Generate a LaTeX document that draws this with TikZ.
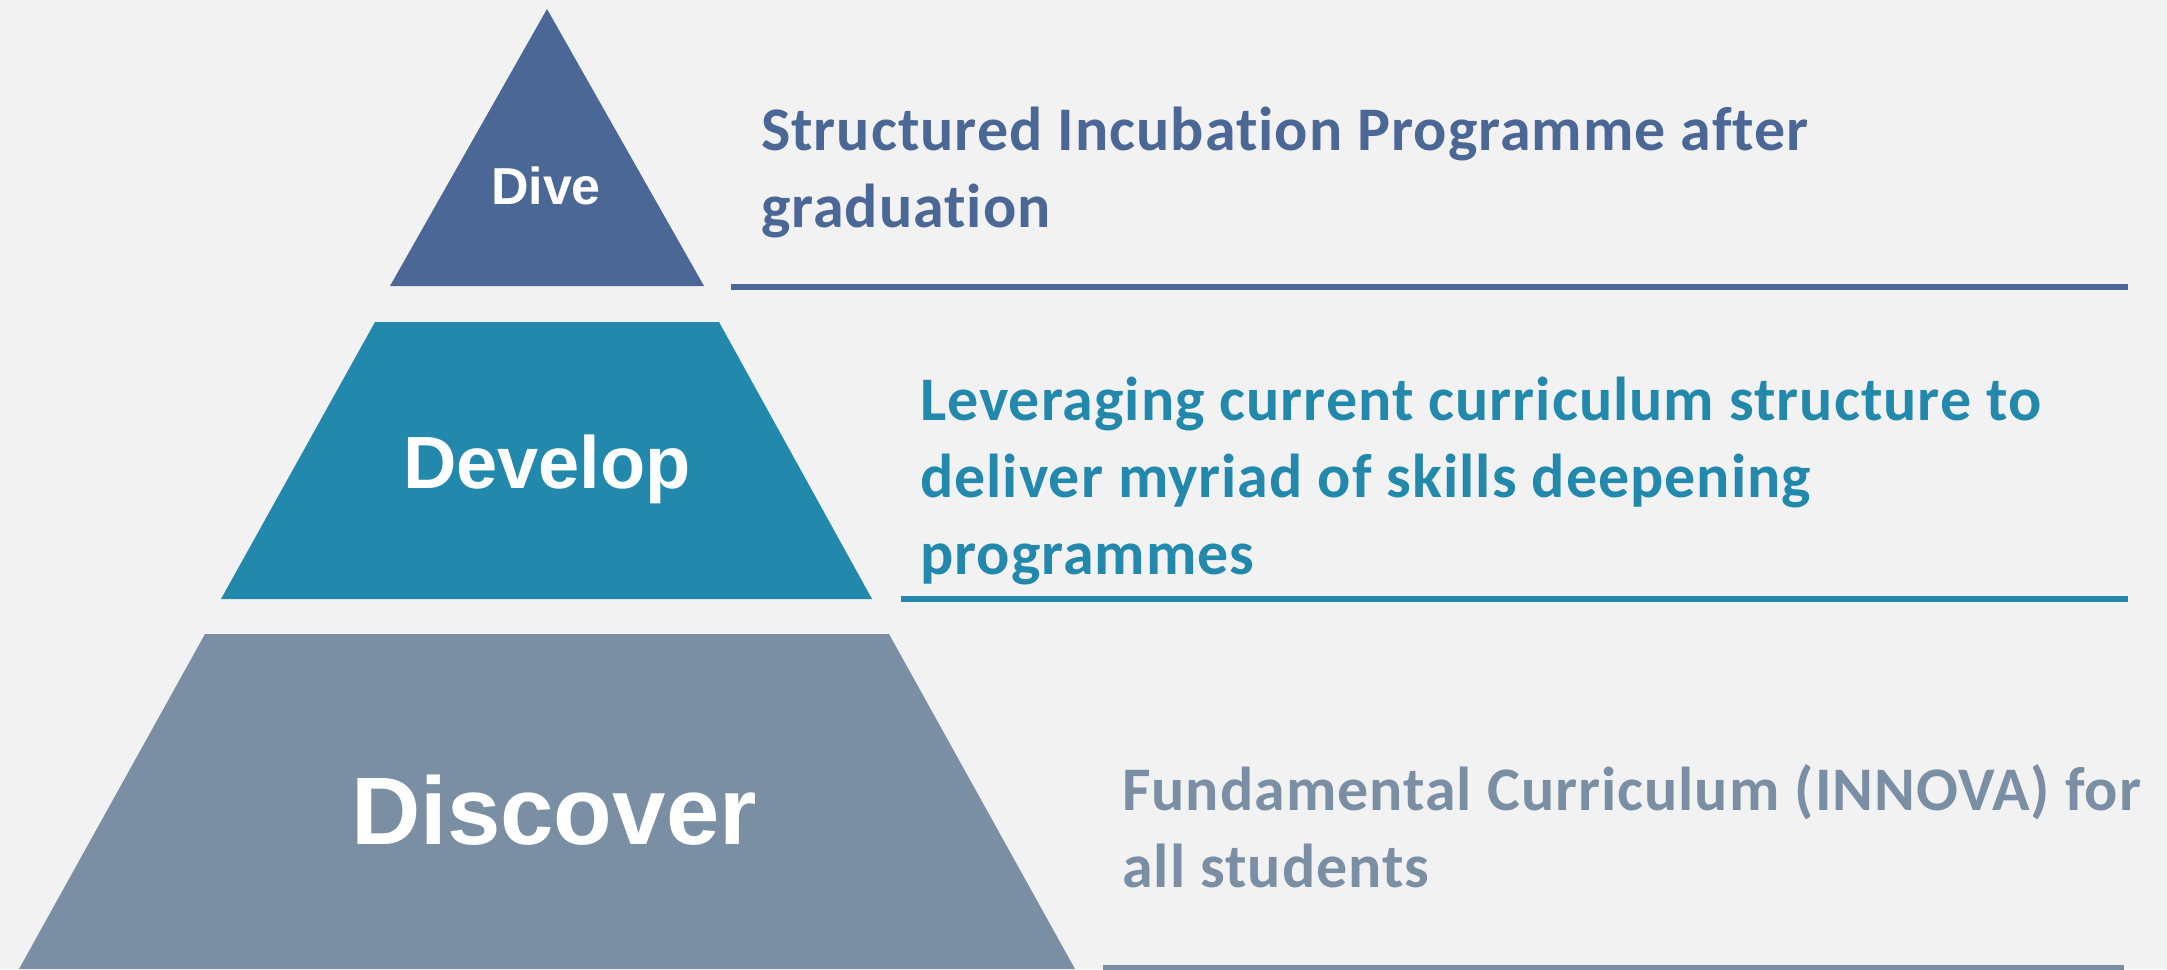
\documentclass[tikz,border=0pt]{standalone}
\usepackage{fontspec}
\setmainfont{Carlito}
\newfontfamily\descfont[LetterSpace=1.6,Ligatures=NoCommon]{Carlito}
\newfontfamily\lvlfont{Liberation Sans}
\definecolor{diveblue}{RGB}{74,103,150}
\definecolor{devteal}{RGB}{35,137,172}
\definecolor{discgray}{RGB}{123,143,164}
\definecolor{bggray}{RGB}{242,242,242}
\begin{document}
\begin{tikzpicture}[x=1pt,y=-1pt,
  lvl/.style={anchor=base, inner sep=0, text=white, font=\lvlfont\bfseries\fontsize{#1}{#1}\selectfont},
  desc/.style={anchor=base west, inner sep=0, align=left, text=#1, font=\descfont\bfseries\fontsize{62}{77}\selectfont},
  rule/.style={line width=5.5pt, #1}]
\fill[bggray] (0,0) rectangle (2167,969);
\useasboundingbox (0,0) rectangle (2167,969);

% dive
\coordinate (tid0) at (547,9);
\coordinate (tid1) at (390,286);
\coordinate (tid2) at (704,286);
\fill[diveblue] (tid0) -- (tid2) -- (tid1) -- cycle;
\node[lvl=52] (dive) at (546,204) {Dive};
% base anchor sits on the last line
\node[desc=diveblue] (divetxt) at (761,227) {Structured Incubation Programme after\\graduation};
\coordinate (dl0) at (731,287);
\coordinate (dl1) at (2128,287);
\draw[rule=diveblue] (dl0) -- (dl1);

% develop
\coordinate (tid3) at (375,322);
\coordinate (tid4) at (719,322);
\coordinate (tid5) at (872,599);
\coordinate (tid6) at (221,599);
\fill[devteal] (tid3) -- (tid4) -- (tid5) -- (tid6) -- cycle;
\node[lvl=74] (develop) at (547,488) {Develop};
\node[desc=devteal] (devtxt) at (920,574) {Leveraging current curriculum structure to\\deliver myriad of skills deepening\\programmes};
\coordinate (vl0) at (901,599);
\coordinate (vl1) at (2128,599);
\draw[rule=devteal] (vl0) -- (vl1);

% discover
\coordinate (tid7) at (205,634);
\coordinate (tid8) at (889,634);
\coordinate (tid9) at (1075,969);
\coordinate (tid10) at (19,969);
\fill[discgray] (tid7) -- (tid8) -- (tid9) -- (tid10) -- cycle;
\node[lvl=96] (discover) at (554,844) {Discover};
\node[desc=discgray] (disctxt) at (1122,887) {Fundamental Curriculum (INNOVA) for\\all students};
\coordinate (cl0) at (1103,968);
\coordinate (cl1) at (2124,968);
\draw[rule=discgray] (cl0) -- (cl1);

\end{tikzpicture}
\end{document}
